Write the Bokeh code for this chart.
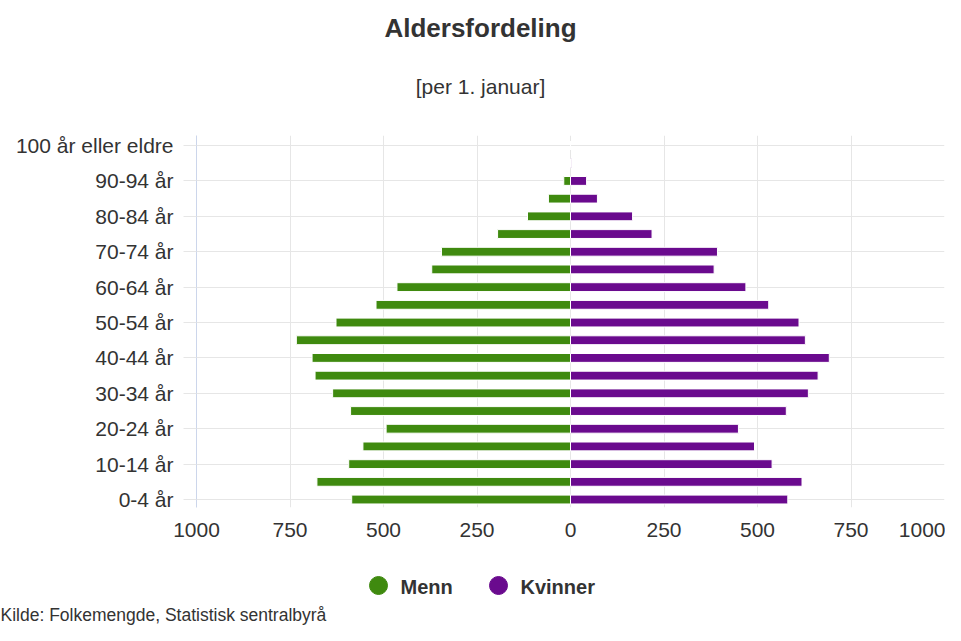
from bokeh.plotting import figure
from bokeh.layouts import column
from bokeh.models import Range1d, FixedTicker, Label, ColumnDataSource
from bokeh.embed import file_html
from bokeh.resources import INLINE

# ---- data ----
age_groups = ["0-4 år", "5-9 år", "10-14 år", "15-19 år", "20-24 år", "25-29 år",
              "30-34 år", "35-39 år", "40-44 år", "45-49 år", "50-54 år", "55-59 år",
              "60-64 år", "65-69 år", "70-74 år", "75-79 år", "80-84 år", "85-89 år",
              "90-94 år", "95-99 år", "100 år eller eldre"]
menn = [585, 678, 593, 555, 493, 588, 636, 683, 691, 733, 627, 520,
        464, 371, 345, 195, 115, 59, 18, 1, 0]
kvinner = [581, 619, 539, 492, 449, 577, 636, 662, 692, 628, 611, 530,
           469, 384, 393, 218, 166, 72, 43, 3, 0]
x_ticks = [-1000, -750, -500, -250, 0, 250, 500, 750, 1000]
series_names = ["Menn", "Kvinner"]
colors = ["#3f8a0f", "#6a0a8e"]

FONT = "Liberation Sans"
TXT = "#333333"
W = 945
H_HEAD, H_MAIN, H_FOOT = 110, 450, 65


def blank(height):
    f = figure(width=W, height=height, output_backend="svg", toolbar_location=None,
               x_range=Range1d(0, W), y_range=Range1d(height, 0),
               x_axis_location=None, y_axis_location=None,
               min_border=0, min_border_left=0, min_border_right=0,
               min_border_top=0, min_border_bottom=0, frame_align=False)
    f.grid.visible = False
    f.outline_line_color = None
    f.background_fill_color = "white"
    f.border_fill_color = "white"
    return f


def add_label(f, text, x, y, size, bold=False, align="center", color=TXT):
    f.add_layout(Label(x=x, y=y, text=text, text_font=FONT,
                       text_font_size=size, text_color=color,
                       text_font_style="bold" if bold else "normal",
                       text_align=align, text_baseline="middle"))


# ---- header ----
head = blank(H_HEAD)
add_label(head, "Aldersfordeling", 480, 27, "26px", bold=True)
add_label(head, "[per 1. januar]", 480, 86, "21px")

# ---- main chart ----
FX0, FX1 = 196, 944
FY0, FY1 = 135 - H_HEAD, 507 - H_HEAD
PXY = 17.7
Y0 = -0.45
Y1 = Y0 + (FY1 - FY0) / PXY

p = figure(width=W, height=H_MAIN, output_backend="svg", toolbar_location=None,
           x_range=Range1d(-1000, 1000), y_range=Range1d(Y0, Y1),
           min_border_left=FX0, min_border_right=W - FX1,
           min_border_top=FY0, min_border_bottom=H_MAIN - FY1, frame_align=False)
p.outline_line_color = None
p.background_fill_color = "white"
p.border_fill_color = "white"

idx = list(range(len(age_groups)))
src = ColumnDataSource(dict(
    y=idx,
    men_left=[-v for v in menn],
    zero=[0] * len(idx),
    women_right=kvinner,
))
p.hbar(y="y", left="men_left", right="zero", height=0.5, source=src,
       fill_color=colors[0], line_color="white", line_width=1)
p.hbar(y="y", left="zero", right="women_right", height=0.5, source=src,
       fill_color=colors[1], line_color="white", line_width=1)

p.xaxis.ticker = FixedTicker(ticks=x_ticks)
p.xaxis.major_label_overrides = {t: str(abs(t)) for t in x_ticks}
p.xaxis.axis_line_color = None
p.xaxis.major_tick_line_color = None
p.xaxis.minor_tick_line_color = None
p.xaxis.major_tick_out = 0
p.xaxis.major_label_standoff = 15
p.xaxis.major_label_text_font = FONT
p.xaxis.major_label_text_font_size = "21px"
p.xaxis.major_label_text_color = TXT

even = idx[::2]
p.yaxis.ticker = FixedTicker(ticks=even)
p.yaxis.major_label_overrides = {i: age_groups[i] for i in even}
p.yaxis.axis_line_color = "#ccd6eb"
p.yaxis.major_tick_line_color = "#e6e6e6"
p.yaxis.minor_tick_line_color = None
p.yaxis.major_tick_out = 13
p.yaxis.major_tick_in = 0
p.yaxis.major_label_standoff = 10
p.yaxis.major_label_text_font = FONT
p.yaxis.major_label_text_font_size = "21px"
p.yaxis.major_label_text_color = TXT

p.xgrid.grid_line_color = "#e6e6e6"
p.ygrid.grid_line_color = "#e6e6e6"

# ---- footer: legend + source ----
foot = blank(H_FOOT)
LEG_Y = 25
foot.scatter(x=[378], y=[LEG_Y], size=18, marker="circle",
             fill_color=colors[0], line_color=colors[0])
add_label(foot, series_names[0], 400, LEG_Y + 1, "20px", bold=True, align="left")
foot.scatter(x=[498], y=[LEG_Y], size=18, marker="circle",
             fill_color=colors[1], line_color=colors[1])
add_label(foot, series_names[1], 520, LEG_Y + 1, "20px", bold=True, align="left")
add_label(foot, "Kilde: Folkemengde, Statistisk sentralbyrå", 0, 54, "17.5px", align="left")

layout = column(head, p, foot, spacing=0)
open("out.html", "w").write(file_html(layout, INLINE))
